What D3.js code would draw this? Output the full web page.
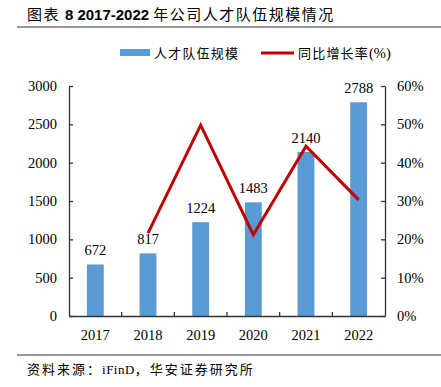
<!DOCTYPE html>
<html>
<head>
<meta charset="utf-8">
<script src="https://cdn.jsdelivr.net/npm/d3@7"></script>
<style>
  body { margin: 0; background: #fff; }
  svg text { font-family: "Liberation Serif", "Noto Sans CJK SC", serif; }
</style>
</head>
<body>
<svg id="canvas"></svg>
<script>
let years = ['2017', '2018', '2019', '2020', '2021', '2022']
let staff = [672, 817, 1224, 1483, 2140, 2788]
let growth = [null, 21.6, 49.8, 21.2, 44.3, 30.3]
let leftTicks = [0, 500, 1000, 1500, 2000, 2500, 3000]
let rightTicks = [0, 10, 20, 30, 40, 50, 60]

let width = 441
let height = 387
let plotLeft = 69
let plotRight = 385
let plotTop = 86
let plotBottom = 316
let numSize = 14.5

let svg = d3.select('#canvas')
svg.attr('width', width).attr('height', height)

// title and rules
let title = svg.append('text')
    .attr('x', 27).attr('y', 20)
    .attr('font-size', 15)
    .style('letter-spacing', '1.5px')
title.append('tspan').style('font-family', '"Noto Sans CJK SC", sans-serif').text('图表 ')
title.append('tspan').attr('font-weight', 'bold')
    .style('font-family', '"Liberation Sans", sans-serif').style('letter-spacing', '0px')
    .text('8 2017-2022 ')
title.append('tspan').style('font-family', '"Noto Sans CJK SC", sans-serif').text('年公司人才队伍规模情况')

svg.append('line').attr('x1', 17).attr('x2', 441).attr('y1', 27).attr('y2', 27)
    .attr('stroke', '#333').attr('stroke-width', 1)
svg.append('line').attr('x1', 17).attr('x2', 441).attr('y1', 355).attr('y2', 355)
    .attr('stroke', '#333').attr('stroke-width', 1)
let foot = svg.append('text')
    .attr('x', 27).attr('y', 374)
    .attr('font-size', 13)
    .style('letter-spacing', '2px')
foot.append('tspan').style('font-family', '"Noto Sans CJK SC", sans-serif').text('资料来源：')
foot.append('tspan').style('letter-spacing', '0.5px').text('iFinD')
foot.append('tspan').style('font-family', '"Noto Sans CJK SC", sans-serif').text('，华安证券研究所')

let xScale = d3.scaleBand().domain(years).range([plotLeft, plotRight]).paddingInner(0.68).paddingOuter(0.34)
let xPoint = d3.scaleBand().domain(years).range([plotLeft, plotRight])
let yScale = d3.scaleLinear().domain([0, 3000]).range([plotBottom, plotTop])
let y2Scale = d3.scaleLinear().domain([0, 60]).range([plotBottom, plotTop])

// bars
svg.selectAll('rect.bar')
    .data(staff)
    .enter()
    .append('rect')
    .attr('class', 'bar')
    .attr('fill', '#5B9BD5')
    .attr('x', (d, i) => xScale(years[i]))
    .attr('width', xScale.bandwidth())
    .attr('y', (d) => yScale(d))
    .attr('height', (d) => plotBottom - yScale(d))

svg.selectAll('text.val')
    .data(staff)
    .enter()
    .append('text')
    .attr('class', 'val')
    .attr('x', (d, i) => xPoint(years[i]) + xPoint.bandwidth() / 2)
    .attr('y', (d) => yScale(d) - 9)
    .attr('text-anchor', 'middle')
    .attr('font-size', numSize)
    .text((d) => d)

// growth line
let lineData = growth.map((g, i) => ({ year: years[i], g: g })).filter((d) => d.g !== null)
let line = d3.line()
    .x((d) => xPoint(d.year) + xPoint.bandwidth() / 2)
    .y((d) => y2Scale(d.g))
svg.append('path')
    .datum(lineData)
    .attr('d', line)
    .attr('fill', 'none')
    .attr('stroke', '#C00000')
    .attr('stroke-width', 3)

// axes
let yAxis = d3.axisLeft(yScale).tickValues(leftTicks).tickSize(-4).tickSizeOuter(0)
    .tickPadding(12).tickFormat(d3.format('d'))
let y2Axis = d3.axisRight(y2Scale).tickValues(rightTicks).tickSize(-4).tickSizeOuter(0)
    .tickPadding(12).tickFormat((d) => d + '%')

let gy = svg.append('g').attr('transform', 'translate(' + plotLeft + ',0)').call(yAxis)
let gy2 = svg.append('g').attr('transform', 'translate(' + plotRight + ',0)').call(y2Axis)
;[gy, gy2].forEach((g) => {
    g.selectAll('path, line').attr('stroke', '#333').attr('stroke-width', 1.3)
    g.selectAll('text').attr('font-size', numSize).attr('fill', '#000')
        .style('font-family', '"Liberation Serif", serif')
})

// x axis with ticks at band boundaries
let xAxis = d3.axisBottom(xPoint).tickSize(0).tickPadding(14)
let gx = svg.append('g').attr('transform', 'translate(0,' + plotBottom + ')').call(xAxis)
gx.select('.domain').attr('stroke', '#333').attr('stroke-width', 1.3)
gx.selectAll('text').attr('font-size', numSize).attr('fill', '#000')
    .style('font-family', '"Liberation Serif", serif')
gx.selectAll('line.sep')
    .data(years.slice(1))
    .enter()
    .append('line')
    .attr('class', 'sep')
    .attr('x1', (d) => xPoint(d)).attr('x2', (d) => xPoint(d))
    .attr('y1', 0).attr('y2', -4)
    .attr('stroke', '#333').attr('stroke-width', 1.3)

// legend
let lg = svg.append('g')
lg.append('rect').attr('x', 120).attr('y', 49).attr('width', 30).attr('height', 7).attr('fill', '#5B9BD5')
lg.append('text').attr('x', 154).attr('y', 58).attr('font-size', 13)
    .style('letter-spacing', '1.2px').text('人才队伍规模')
lg.append('line').attr('x1', 261).attr('x2', 294).attr('y1', 53).attr('y2', 53)
    .attr('stroke', '#C00000').attr('stroke-width', 3)
let lt = lg.append('text').attr('x', 298).attr('y', 58).attr('font-size', 13)
    .style('letter-spacing', '1.2px')
lt.append('tspan').style('font-family', '"Noto Sans CJK SC", sans-serif').text('同比增长率')
lt.append('tspan').attr('font-size', numSize).style('letter-spacing', '0px').text('(%)')
</script>
</body>
</html>
